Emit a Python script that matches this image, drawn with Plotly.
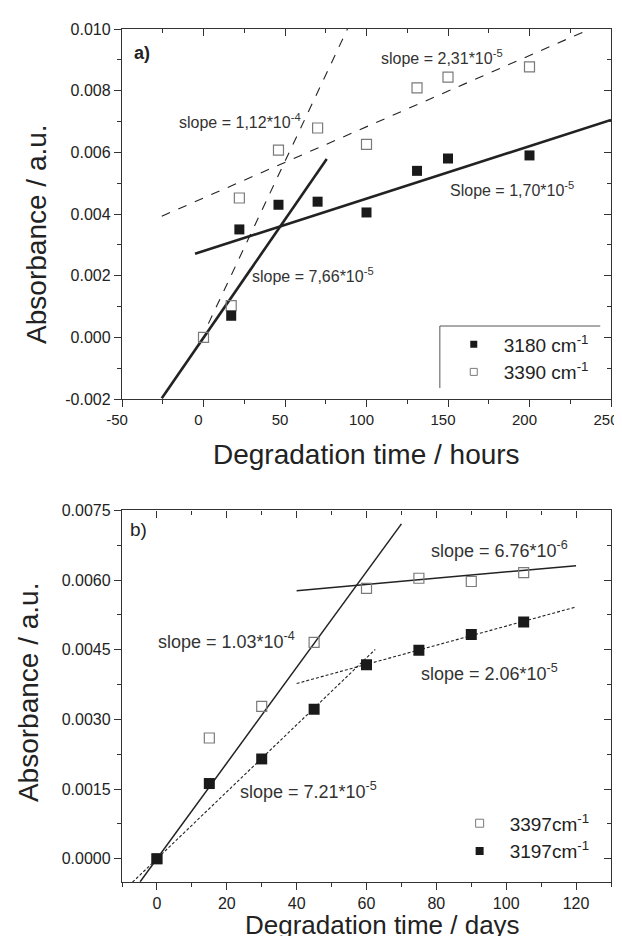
import plotly.graph_objects as go

# ---------------- Panel a) data (hours) ----------------
a_time_3180 = [17, 22, 46, 70, 100, 131, 150, 200]
a_abs_3180 = [0.0007, 0.0035, 0.0043, 0.0044, 0.00405, 0.0054, 0.0058, 0.0059]
a_time_3390 = [0, 17, 22, 46, 70, 100, 131, 150, 200]
a_abs_3390 = [0.0, 0.00103, 0.00452, 0.00607, 0.00679, 0.00626, 0.00809, 0.00844, 0.00877]

# fitted lines: slope, intercept, x start, x end
a_fit_slopes = [7.66e-5, 1.70e-5, 1.12e-4, 2.31e-5]
a_fit_intercepts = [-0.00001, 0.0028, 0.00011, 0.00452]
a_fit_xstart = [-25.6, -5.2, 3, -25.6]
a_fit_xend = [75.6, 250, 88.3, 235]
a_fit_dash = ["solid", "solid", "dash", "dash"]
a_fit_width = [2.6, 2.6, 1.1, 1.1]

a_labels = ["slope = 7,66*10<sup>-5</sup>", "Slope = 1,70*10<sup>-5</sup>",
            "slope = 1,12*10<sup>-4</sup>", "slope = 2,31*10<sup>-5</sup>"]
a_label_x = [28.8, 150, -16.5, 107.4]
a_label_y = [0.00201, 0.00482, 0.00701, 0.0091]

a_xticks = [-50, 0, 50, 100, 150, 200, 250]
a_xticktext = ["-50", "0", "50", "100", "150", "200", "250"]
a_yticks = [-0.002, 0.0, 0.002, 0.004, 0.006, 0.008, 0.010]
a_yticktext = ["-0.002", "0.000", "0.002", "0.004", "0.006", "0.008", "0.010"]

# ---------------- Panel b) data (days) ----------------
b_time = [0, 15, 30, 45, 60, 75, 90, 105]
b_abs_3197 = [0.0, 0.00162, 0.00215, 0.00322, 0.00418, 0.00449, 0.00483, 0.0051]
b_abs_3397 = [0.0, 0.0026, 0.00328, 0.00466, 0.00582, 0.00604, 0.00597, 0.00616]

b_fit_slopes = [1.03e-4, 6.76e-6, 7.21e-5, 2.06e-5]
b_fit_intercepts = [0.0, 0.0055, 0.0, 0.00295]
b_fit_xstart = [-4.8, 40, -7, 40]
b_fit_xend = [70, 120, 62.5, 120]
b_fit_dash = ["solid", "solid", "3px,2px", "3px,2px"]
b_fit_width = [1.5, 1.5, 1.1, 1.1]

b_labels = ["slope = 1.03*10<sup>-4</sup>", "slope = 6.76*10<sup>-6</sup>",
            "slope = 7.21*10<sup>-5</sup>", "slope = 2.06*10<sup>-5</sup>"]
b_label_x = [-0.3, 78, 23.2, 75]
b_label_y = [0.00469, 0.00665, 0.00146, 0.00402]

b_xticks = [0, 20, 40, 60, 80, 100, 120]
b_yticks = [0.0, 0.0015, 0.0030, 0.0045, 0.0060, 0.0075]
b_yticktext = ["0.0000", "0.0015", "0.0030", "0.0045", "0.0060", "0.0075"]

FONT = "Liberation Sans, Arial, sans-serif"
INK = "#222222"
OPEN = "#7a7a7a"
AX = "#333333"

fig = go.Figure()

# fits panel a
for s, b, x0, x1, d, w in zip(a_fit_slopes, a_fit_intercepts, a_fit_xstart, a_fit_xend, a_fit_dash, a_fit_width):
    fig.add_trace(go.Scatter(x=[x0, x1], y=[s * x0 + b, s * x1 + b], mode="lines",
                             line=dict(color=INK, width=w, dash=d), showlegend=False,
                             hoverinfo="skip", xaxis="x", yaxis="y"))
fig.add_trace(go.Scatter(x=a_time_3390, y=a_abs_3390, mode="markers",
                         marker=dict(symbol="square-open", size=10, color=OPEN, line=dict(width=1.2, color=OPEN)),
                         showlegend=False, xaxis="x", yaxis="y"))
fig.add_trace(go.Scatter(x=a_time_3180, y=a_abs_3180, mode="markers",
                         marker=dict(symbol="square", size=10, color="#1a1a1a"),
                         showlegend=False, xaxis="x", yaxis="y"))

# fits panel b
for s, b, x0, x1, d, w in zip(b_fit_slopes, b_fit_intercepts, b_fit_xstart, b_fit_xend, b_fit_dash, b_fit_width):
    fig.add_trace(go.Scatter(x=[x0, x1], y=[s * x0 + b, s * x1 + b], mode="lines",
                             line=dict(color=INK, width=w, dash=d), showlegend=False,
                             hoverinfo="skip", xaxis="x2", yaxis="y2"))
fig.add_trace(go.Scatter(x=b_time, y=b_abs_3397, mode="markers",
                         marker=dict(symbol="square-open", size=10, color=OPEN, line=dict(width=1.2, color=OPEN)),
                         showlegend=False, xaxis="x2", yaxis="y2"))
fig.add_trace(go.Scatter(x=b_time, y=b_abs_3197, mode="markers",
                         marker=dict(symbol="square", size=11, color="#1a1a1a"),
                         showlegend=False, xaxis="x2", yaxis="y2"))

# legend entries
fig.add_trace(go.Scatter(x=[None], y=[None], mode="markers", name="3180 cm<sup>-1</sup>",
                         marker=dict(symbol="square", size=7, color="#1a1a1a"), legend="legend",
                         xaxis="x", yaxis="y"))
fig.add_trace(go.Scatter(x=[None], y=[None], mode="markers", name="3390 cm<sup>-1</sup>",
                         marker=dict(symbol="square-open", size=7, color=OPEN, line=dict(width=1)), legend="legend",
                         xaxis="x", yaxis="y"))
fig.add_trace(go.Scatter(x=[None], y=[None], mode="markers", name="3397cm<sup>-1</sup>",
                         marker=dict(symbol="square-open", size=8, color=OPEN, line=dict(width=1)), legend="legend2",
                         xaxis="x2", yaxis="y2"))
fig.add_trace(go.Scatter(x=[None], y=[None], mode="markers", name="3197cm<sup>-1</sup>",
                         marker=dict(symbol="square", size=8, color="#1a1a1a"), legend="legend2",
                         xaxis="x2", yaxis="y2"))

# invisible copies of the data on the mirrored (top / right) axes so they get drawn
for xa, ya, xs, ys in [("x3", "y", a_time_3180, a_abs_3180), ("x", "y3", a_time_3180, a_abs_3180),
                       ("x4", "y2", b_time, b_abs_3197), ("x2", "y4", b_time, b_abs_3197)]:
    fig.add_trace(go.Scatter(x=xs, y=ys, mode="markers", marker=dict(opacity=0), showlegend=False,
                             hoverinfo="skip", xaxis=xa, yaxis=ya))

tickfont = dict(family=FONT, size=16, color=INK)
axline = dict(showline=True, linecolor=AX, linewidth=1.3, showgrid=False, zeroline=False,
              ticklen=7, tickwidth=1.2, tickcolor=AX)

A_TOP = 0.5662
B_TOP = 0.4356

def mirror_axis(overlay, side, anchor, rng, dtick, minor_dtick):
    return dict(overlaying=overlay, side=side, anchor=anchor, range=rng, tickmode="linear",
                dtick=dtick, tick0=0, ticks="inside", showticklabels=False,
                minor=dict(ticks="inside", ticklen=4, dtick=minor_dtick, tick0=0, tickcolor=AX), **axline)

fig.update_layout(
    width=622, height=936,
    margin=dict(l=114, r=11, t=21, b=62),
    paper_bgcolor="white", plot_bgcolor="white",
    font=dict(family=FONT, color=INK),
    xaxis=dict(domain=[0, 1], anchor="y", range=[-50, 250], tickmode="array", tickvals=a_xticks,
               ticktext=a_xticktext, ticks="outside", tickfont=dict(family=FONT, size=15, color=INK),
               ticklabeloverflow="allow", ticklabelshift=-5,
               minor=dict(ticks="outside", ticklen=4, dtick=25, tick0=0, tickcolor=AX), **axline),
    yaxis=dict(domain=[A_TOP, 1], anchor="x", range=[-0.002, 0.010], tickmode="array", tickvals=a_yticks,
               ticktext=a_yticktext, ticks="outside", tickfont=tickfont, ticklabeloverflow="allow",
               minor=dict(ticks="outside", ticklen=4, dtick=0.001, tick0=0, tickcolor=AX), **axline),
    xaxis3=mirror_axis("x", "top", "y", [-50, 250], 50, 25),
    yaxis3=mirror_axis("y", "right", "x", [-0.002, 0.010], 0.002, 0.001),
    xaxis2=dict(domain=[0, 1], anchor="y2", range=[-10, 130], tickmode="array", tickvals=b_xticks,
                ticks="outside", tickfont=tickfont, ticklabeloverflow="allow",
                minor=dict(ticks="outside", ticklen=4, dtick=10, tick0=0, tickcolor=AX), **axline),
    yaxis2=dict(domain=[0, B_TOP], anchor="x2", range=[-0.0005, 0.0075], tickmode="array", tickvals=b_yticks,
                ticktext=b_yticktext, ticks="outside", tickfont=tickfont, ticklabeloverflow="allow",
                minor=dict(ticks="outside", ticklen=4, dtick=0.00075, tick0=0, tickcolor=AX), **axline),
    xaxis4=mirror_axis("x2", "top", "y2", [-10, 130], 20, 10),
    yaxis4=mirror_axis("y2", "right", "x2", [-0.0005, 0.0075], 0.0015, 0.00075),
    legend=dict(x=0.658, y=0.6526, xanchor="left", yanchor="top", bgcolor="rgba(0,0,0,0)",
                itemwidth=50, font=dict(family=FONT, size=19, color=INK), tracegroupgap=0),
    legend2=dict(x=0.670, y=0.091, xanchor="left", yanchor="top", bgcolor="rgba(0,0,0,0)",
                 itemwidth=50, font=dict(family=FONT, size=19, color=INK), tracegroupgap=0),
    showlegend=True,
)

ann = []
for t, x, y in zip(a_labels, a_label_x, a_label_y):
    ann.append(dict(text=t, x=x, y=y, xref="x", yref="y", xanchor="left", yanchor="middle",
                    showarrow=False, font=dict(family=FONT, size=16, color=AX)))
for t, x, y in zip(b_labels, b_label_x, b_label_y):
    ann.append(dict(text=t, x=x, y=y, xref="x2", yref="y2", xanchor="left", yanchor="middle",
                    showarrow=False, font=dict(family=FONT, size=18, color=AX)))
ann.append(dict(text="<b>a)</b>", x=-44, y=0.00922, xref="x", yref="y", xanchor="left", yanchor="middle",
                showarrow=False, font=dict(family=FONT, size=18, color=INK)))
ann.append(dict(text="b)", x=-8.3, y=0.0071, xref="x2", yref="y2", xanchor="left", yanchor="middle",
                showarrow=False, font=dict(family=FONT, size=19, color=INK)))
# axis titles
ann.append(dict(text="Absorbance / a.u.", x=-0.174, y=0.7597, xref="paper", yref="paper", textangle=-90,
                showarrow=False, xanchor="center", yanchor="middle", font=dict(family=FONT, size=28, color=INK)))
ann.append(dict(text="Absorbance / a.u.", x=-0.19, y=0.2216, xref="paper", yref="paper", textangle=-90,
                showarrow=False, xanchor="center", yanchor="middle", font=dict(family=FONT, size=28, color=INK)))
ann.append(dict(text="Degradation time / hours", x=0.501, y=0.5012, xref="paper", yref="paper",
                showarrow=False, xanchor="center", yanchor="middle", font=dict(family=FONT, size=28, color=INK)))
ann.append(dict(text="Degradation time / days", x=0.533, y=-0.0505, xref="paper", yref="paper",
                showarrow=False, xanchor="center", yanchor="middle", font=dict(family=FONT, size=26, color=INK)))
fig.update_layout(annotations=ann)

# legend box (top and left edges only) for panel a
fig.add_shape(type="line", xref="paper", yref="paper", x0=0.650, x1=0.978, y0=0.6518, y1=0.6518,
              line=dict(color="#555555", width=1))
fig.add_shape(type="line", xref="paper", yref="paper", x0=0.650, x1=0.650, y0=0.5791, y1=0.6518,
              line=dict(color="#555555", width=1))

fig.write_html("out.html")
